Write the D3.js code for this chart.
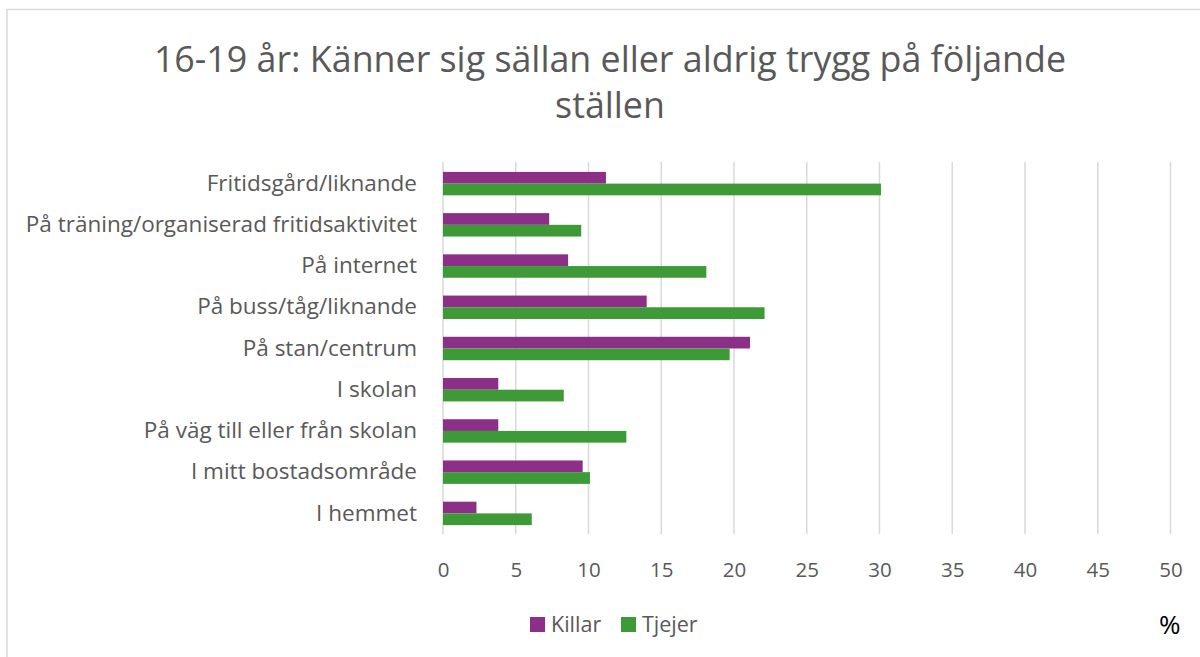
<!DOCTYPE html>
<html>
<head>
	<meta charset="utf-8">
	<title>trygghet 16-19</title>
	<script type="text/javascript" src="https://cdn.jsdelivr.net/npm/d3@7"></script>
	<style>
		body { margin: 0; background: #fff; }
		text { font-family: "Open Sans", "Noto Sans", sans-serif; }
	</style>
</head>
<body>
	<script type="text/javascript">
		var width = 1200,
			height = 657;

		// data
		var categories = ['Fritidsgård/liknande', 'På träning/organiserad fritidsaktivitet', 'På internet',
			'På buss/tåg/liknande', 'På stan/centrum', 'I skolan', 'På väg till eller från skolan',
			'I mitt bostadsområde', 'I hemmet'];
		var seriesNames = ['Killar', 'Tjejer'];
		var killar = [11.2, 7.3, 8.6, 14.0, 21.1, 3.8, 3.8, 9.6, 2.3];
		var tjejer = [30.1, 9.5, 18.1, 22.1, 19.7, 8.3, 12.6, 10.1, 6.1];
		var xTicks = [0, 5, 10, 15, 20, 25, 30, 35, 40, 45, 50];
		var colors = ['#8c2f86', '#3d9a36'];

		var svg = d3.select('body')
					.append('svg')
					.attr('width', width)
					.attr('height', height);

		// chart frame
		svg.append('rect')
			.attr('x', 7).attr('y', 9.5)
			.attr('width', 1210).attr('height', 660)
			.attr('fill', 'none')
			.attr('stroke', '#d9d9d9')
			.attr('stroke-width', 1.5);

		// title
		var title = svg.append('text')
			.attr('text-anchor', 'middle')
			.attr('fill', '#595959')
			.style('font-size', '35.8px');
		title.append('tspan').attr('x', 610).attr('y', 72).text('16-19 år: Känner sig sällan eller aldrig trygg på följande');
		title.append('tspan').attr('x', 610).attr('y', 118).text('ställen');

		var x = d3.scaleLinear()
				.domain([0, 50])
				.range([443, 1170.5]);

		var y = d3.scaleBand()
				.domain(categories)
				.range([163, 534])
				.paddingInner(0.432)
				.paddingOuter(0.216);

		var ySub = d3.scaleBand()
				.domain(seriesNames)
				.range([0, y.bandwidth()]);

		// grid
		svg.append('g')
			.selectAll('line')
			.data(xTicks)
			.enter()
			.append('line')
			.attr('x1', function(d){ return x(d); })
			.attr('x2', function(d){ return x(d); })
			.attr('y1', 162)
			.attr('y2', 534)
			.attr('stroke', '#d9d9d9')
			.attr('stroke-width', 1.5);

		// x axis labels
		var xAxis = d3.axisBottom(x).tickValues(xTicks).tickSize(0).tickPadding(0);
		var gx = svg.append('g')
			.attr('transform', 'translate(0,' + 562 + ')')
			.call(xAxis);
		gx.select('.domain').remove();
		gx.selectAll('text')
			.attr('fill', '#595959')
			.style('font-size', '20.5px')
			.style('font-family', '"Open Sans", sans-serif');

		// y axis labels
		var yAxis = d3.axisLeft(y).tickSize(0).tickPadding(0);
		var gy = svg.append('g')
			.attr('transform', 'translate(417,0)')
			.call(yAxis);
		gy.select('.domain').remove();
		gy.selectAll('text')
			.attr('fill', '#595959')
			.style('font-size', '22.5px')
			.style('font-family', '"Open Sans", sans-serif');

		// bars
		var series = [killar, tjejer];
		series.forEach(function(vals, s){
			svg.append('g')
				.selectAll('rect')
				.data(vals)
				.enter()
				.append('rect')
				.attr('x', x(0))
				.attr('y', function(d, i){ return y(categories[i]) + ySub(seriesNames[s]); })
				.attr('width', function(d){ return x(d) - x(0); })
				.attr('height', ySub.bandwidth())
				.attr('fill', colors[s]);
		});

		// legend
		var legendX = [530, 621];
		var legend = svg.append('g');
		seriesNames.forEach(function(name, i){
			legend.append('rect')
				.attr('x', legendX[i]).attr('y', 617)
				.attr('width', 15).attr('height', 15)
				.attr('fill', colors[i]);
			legend.append('text')
				.attr('x', legendX[i] + 21).attr('y', 632)
				.attr('fill', '#595959')
				.style('font-size', '21.5px')
				.text(name);
		});

		svg.append('text')
			.attr('x', 1159).attr('y', 634)
			.attr('fill', '#000')
			.style('font-size', '26px')
			.text('%');
	</script>
</body>
</html>
